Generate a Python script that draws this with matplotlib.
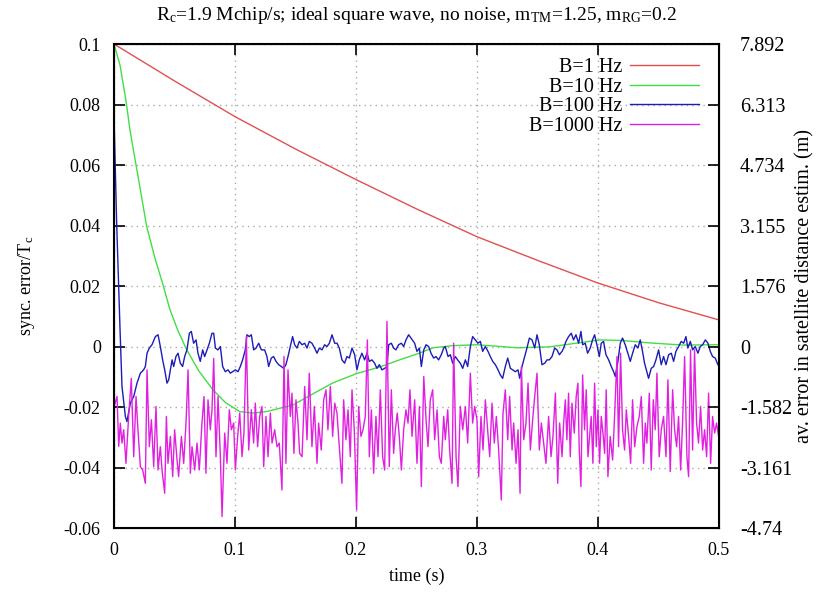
import numpy as np
import matplotlib
matplotlib.use("Agg")
import matplotlib.pyplot as plt
from matplotlib.ticker import FuncFormatter

plt.rcParams['font.family'] = ['Liberation Serif', 'DejaVu Serif']
plt.rcParams['mathtext.fontset'] = 'custom'
plt.rcParams['mathtext.rm'] = 'Liberation Serif'
plt.rcParams['mathtext.it'] = 'Liberation Serif'
plt.rcParams['axes.unicode_minus'] = False

# time in ms, sync error in units of 1e-3 T_c
t_b1 = [0, 50, 100, 150, 200, 250, 300, 350, 400, 450, 500]
e_b1 = [100, 87.8, 76.0, 65.3, 55.2, 45.5, 36.3, 28.5, 21.0, 14.5, 8.8]

t_b10 = [0, 5, 10, 13.2, 16, 20, 27, 34, 40.5, 46, 52.6, 60, 70, 81.8, 92, 104, 115, 126,
         148, 165, 181, 200, 220, 236, 250, 264, 280, 300, 333, 360, 380, 402, 420, 443, 470, 500]
e_b10 = [100, 93, 81, 71.6, 65, 56, 39.7, 29, 20.4, 12.5, 5.5, -1.0, -8.0, -14.3, -18.5, -21.5, -22.0, -21.5,
         -19.3, -15.5, -12.0, -9.0, -6.7, -4.4, -2.5, -0.4, 0.3, 0.6, -0.4, -0.1, 1.0, 2.2, 2.0, 1.2, 0.5, 0.6]

t_b100 = [0, 2.2, 5.0, 6.6, 9.4, 10.7, 13.5, 16.3, 19.0, 21.8, 24.5, 25.9, 27.3, 29.2, 31.4, 34.2, 36.4,
          38.3, 40.2, 41.9, 43.8, 45.2, 46.6, 48.0, 49.3, 51.2, 52.9, 54.8, 56.7, 58.4, 60.3, 62.3, 63.9,
          65.8, 67.8, 69.4, 71.3, 73.3, 74.9, 76.9, 78.8, 81.0, 82.4, 83.8, 85.9, 87.9, 89.8, 92.0, 94.2,
          96.2, 98.1, 100.3, 102.5, 104.4, 106.3, 108.5, 109.9, 111.8, 113.5, 115.4, 117.4, 119.6, 121.8,
          124.5, 126.4, 127.8, 130.0, 131.9, 133.9, 136.1, 138.3, 140.2, 142.1, 143.8, 145.7, 147.6, 149.3,
          151.2, 153.2, 155.4, 157.6, 159.5, 161.4, 163.6, 165.8, 167.8, 169.7, 171.9, 174.1, 176.0, 178.0,
          180.2, 182.4, 184.3, 186.2, 188.4, 190.6, 192.5, 194.5, 196.7, 198.9, 200.8, 202.7, 204.9, 207.1,
          209.1, 211.0, 213.2, 215.4, 217.3, 219.3, 221.5, 223.7, 225.6, 227.0, 229.2, 231.1, 233.0, 235.2,
          237.5, 239.4, 241.3, 243.5, 248.5, 250.4, 252.4, 254.0, 256.0, 257.9, 260.1, 262.0, 264.2, 266.1,
          268.3, 270.5, 272.5, 273.8, 276.1, 278.0, 279.9, 282.1, 284.0, 286.2, 288.2, 290.4, 292.3, 294.5,
          296.4, 298.6, 300.8, 302.8, 304.7, 306.9, 309.1, 311.0, 313.0, 315.2, 317.4, 319.3, 321.2, 323.4,
          325.4, 327.6, 329.5, 331.7, 333.9, 335.3, 337.2, 339.4, 341.3, 343.3, 345.5, 347.7, 349.6, 351.5,
          353.7, 356.0, 357.9, 359.8, 362.0, 364.2, 366.1, 368.1, 370.3, 371.6, 373.5, 375.7, 377.9, 379.8,
          381.8, 384.0, 385.9, 387.3, 389.5, 391.4, 393.6, 395.5, 397.2, 399.1, 401.1, 402.7, 404.6, 406.6,
          408.8, 411.0, 412.9, 414.3, 416.5, 418.4, 420.3, 422.5, 424.7, 426.7, 428.6, 430.8, 433.0, 434.9,
          436.3, 438.5, 440.4, 441.8, 444.0, 446.0, 447.9, 450.1, 452.3, 454.2, 456.2, 458.4, 460.6, 462.5,
          464.4, 466.6, 468.8, 470.8, 472.7, 474.3, 476.3, 478.2, 480.4, 482.6, 484.5, 486.5, 488.7, 490.9,
          492.8, 494.7, 496.9, 499.1]
e_b100 = [76, 40.8, 5.5, -13.2, -23.1, -24.8, -18.7, -16.5, -12.1, -8.8, -7.7, -6.6, -2.2, -0.5, 0.6, 3.3, 3.9,
          0.0, -4.4, -7.7, -12.1, -11.0, -7.7, -4.4, -6.6, -3.3, -2.2, -5.5, -6.6, -3.3, -1.1, 4.4, 5.0,
          1.1, 2.2, -2.2, -4.9, -1.1, -3.3, -1.1, 1.1, 4.4, 4.4, -0.5, -1.1, 0.0, -6.6, -8.3, -7.7,
          -8.8, -8.3, -7.7, -8.3, -6.6, -4.4, -1.1, 3.9, 3.3, 3.9, -1.1, -0.5, 1.1, -1.1,
          -1.1, -3.3, -6.6, -3.8, -3.3, -4.9, -6.0, -6.6, -7.2, -6.0, -3.3, 0.0, 3.3, 0.6,
          -0.5, 1.7, 0.6, 1.1, -0.5, 1.7, 1.1, -0.5, -2.2, -0.5, -1.1, 0.6, 0.0, 1.1,
          3.9, 1.1, 1.1, -0.5, -4.4, -5.5, -3.3, -3.8, -0.5, -2.7, -7.7, -4.4, -2.2, -4.4,
          -2.2, -4.9, -4.4, -5.5, -7.2, -6.0, -7.7, -7.2, -6.6, 0.6, 1.1, -0.5, -1.1, 0.6,
          1.1, 0.0, 2.2, 3.9, 1.1, -1.6, -0.5, -6.6, -1.1, 0.6, 0.0, -2.2, -3.8, -3.3,
          -4.4, -2.7, -0.5, 0.0, -3.3, -2.7, -5.5, -3.3, -4.4, -5.5, -7.2, -4.4, -6.6, 0.0,
          3.3, 2.2, 1.1, 1.7, -1.6, 0.0, -1.6, -3.3, -4.9, -6.0, -7.7, -9.4, -10.5, -6.6,
          -3.8, -7.2, -7.7, -8.3, -7.7, -10.5, -6.6, -3.3, -0.5, 2.8, 2.2, -0.5, 3.9, 0.6,
          -6.0, -5.5, -4.4, -4.4, -3.3, -0.5, -1.1, -2.7, -1.6, -0.5, 1.7, 3.3, 4.4, 2.2,
          3.9, 1.1, 5.0, 0.6, 1.1, -2.2, -0.5, 2.2, 3.9, 0.6, -3.3, 1.1, 1.7, -2.7,
          -4.4, -6.6, -8.3, -9.9, -4.9, 1.1, 2.8, 0.6, -2.2, -4.9, -2.2, 0.6, -0.5, 2.2,
          -0.5, -5.5, -8.3, -10.5, -7.2, -6.6, -4.4, -1.1, -6.0, -3.3, -6.0, -2.7, -2.2, -4.9,
          -1.6, 0.0, 1.7, 1.1, 3.3, -0.5, 1.7, -1.1, 0.0, -2.2, 0.0, 0.6, 2.2, 1.1,
          -1.6, -3.3, -3.8, -6.0]

t_b1000 = [0, 2.5, 3.9, 5.2, 6.6, 8.0, 9.9, 12.1, 14.3, 16.3, 18.2, 19.8, 21.8, 23.7, 25.9, 27.3, 29.2,
           30.9, 32.8, 34.7, 36.4, 38.3, 39.7, 41.9, 43.3, 44.6, 46.6, 48.5, 50.1, 52.1, 53.4, 55.7, 57.6,
           59.5, 61.2, 63.1, 64.5, 66.7, 68.6, 70.5, 72.7, 74.4, 76.0, 77.7, 79.6, 81.0, 82.4, 84.3, 86.0,
           87.9, 89.3, 91.5, 93.4, 95.3, 97.0, 98.9, 100.3, 102.2, 103.9, 105.8, 107.4, 109.4, 111.3, 113.5,
           115.4, 116.8, 118.7, 120.4, 122.3, 123.7, 125.6, 127.3, 129.2, 130.6, 132.8, 134.7, 136.6, 138.8,
           140.5, 142.1, 143.8, 145.7, 147.1, 148.7, 150.4, 152.1, 153.4, 155.4, 157.6, 159.5, 161.4, 163.6,
           165.6, 167.8, 169.1, 171.3, 173.3, 175.2, 176.8, 178.8, 180.7, 182.4, 184.3, 186.2, 188.4, 189.8,
           191.7, 193.4, 195.3, 196.7, 198.6, 200.5, 202.2, 204.1, 205.8, 207.7, 209.4, 211.0, 212.7, 214.6,
           216.5, 218.2, 220.1, 222.0, 223.7, 225.6, 227.5, 229.2, 231.1, 232.5, 234.1, 235.8, 237.5, 239.4,
           241.3, 243.0, 244.6, 246.3, 248.5, 250.4, 252.4, 254.0, 256.0, 257.9, 259.5, 261.4, 263.4, 265.0,
           267.0, 268.9, 270.5, 272.5, 273.8, 275.8, 277.4, 279.4, 280.7, 282.7, 284.3, 286.2, 288.2, 290.4,
           292.3, 294.5, 296.4, 298.1, 300.0, 301.4, 303.3, 305.0, 306.9, 308.8, 310.5, 312.4, 314.3, 316.0,
           317.9, 320.1, 321.5, 323.4, 325.4, 327.0, 329.0, 330.3, 332.3, 333.9, 335.6, 336.7, 338.6, 340.5,
           342.2, 344.1, 346.0, 347.7, 349.6, 351.5, 353.2, 355.1, 357.0, 359.2, 361.2, 362.8, 364.8, 366.7,
           368.3, 370.3, 371.6, 373.0, 374.3, 375.7, 377.1, 378.5, 380.4, 382.0, 383.4, 384.5, 385.9, 387.3,
           388.9, 390.3, 391.7, 393.1, 394.4, 395.8, 397.2, 398.6, 400.0, 401.3, 402.7, 404.1, 405.5, 406.8,
           408.2, 410.1, 412.1, 413.7, 415.7, 417.0, 418.7, 420.3, 422.0, 423.4, 425.3, 427.0, 428.6, 430.3,
           432.2, 434.1, 435.8, 437.7, 439.1, 440.4, 442.4, 444.0, 445.7, 447.3, 448.7, 450.6, 452.3, 454.2,
           456.2, 457.8, 459.7, 461.7, 463.3, 465.0, 466.6, 468.3, 469.9, 471.6, 473.5, 474.9, 476.5, 478.2,
           479.8, 481.5, 483.1, 484.8, 486.5, 488.1, 489.8, 491.4, 493.1, 494.7, 496.4, 498.0, 499.7]
e_b1000 = [-20, -16.5, -33.0, -25.3, -31.9, -27.5, -38.6, -23.1, -10.5, -36.4, -16.5, -27.5, -39.7, -40.8, -45.2, -7.7, -33.1,
           -24.2, -39.7, -19.8, -40.8, -33.1, -40.8, -48.5, -23.1, -38.6, -29.7, -43.0, -27.5, -37.5, -43.0, -29.7, -38.6,
           -25.3, -7.7, -41.9, -33.1, -40.8, -31.9, -40.8, -25.3, -16.5, -41.9, -17.6, -27.5, -20.9, -3.9, -36.4, -16.5,
           -36.4, -56.2, -28.6, -38.6, -20.9, -27.5, -25.3, -40.8, -29.7, -22.0, -36.4, -28.6, 3.3, -34.2, -20.9,
           -31.9, -18.7, -33.1, -23.1, -19.8, -39.7, -23.1, -36.4, -22.0, -31.9, -27.5, -33.1, -31.9, -47.4,
           -3.3, -38.6, -7.7, -23.1, -15.4, -35.3, -17.6, -25.3, -35.3, -36.4, -13.2, -30.8, -8.8, -33.1,
           -19.8, -38.6, -25.3, -34.2, -17.6, -14.3, -27.5, -13.2, -29.7, -18.7, -22.0, -33.1, -45.2, -17.6,
           -30.8, -20.9, -36.4, -14.3, -27.5, -54.0, -19.8, -29.7, -27.5, -23.1, 2.2, -36.4, -20.9, -41.9,
           -23.1, -36.4, -14.3, -36.4, -40.8, 8.3, -39.7, -14.3, -35.3, -27.5, -22.0, -29.7, -40.8, -27.5,
           -20.9, -25.3, -14.3, -29.7, -17.6, -38.6, -19.8, -46.3, -9.9, -24.2, -33.1, -17.6, -14.3, -30.8,
           -20.9, -36.4, -38.6, -23.1, -30.8, -20.9, -34.2, -45.2, 1.1, -36.4, -46.3, -19.8, -27.5, -19.8,
           -31.9, -8.8, -25.3, -19.8, -24.2, -43.0, -23.1, -34.2, -17.6, -27.5, -36.4, -18.7, -31.9, -23.1,
           -34.2, -50.7, -22.0, -14.3, -30.8, -16.5, -34.2, -25.3, -38.6, -27.5, -48.5, -6.6, -30.8, -25.3,
           -12.1, -34.2, -24.2, -16.5, -8.8, -34.2, -25.3, -31.9, -38.6, -23.1, -36.4, -29.7, -15.4, -45.2,
           -25.3, -36.4, -25.3, -17.6, -30.8, -15.4, -36.4, -18.7, -28.6, -16.5, -12.1, -34.2, -46.3, -9.4,
           -27.5, -14.3, -36.4, -29.7, -23.1, -38.6, -12.1, -33.1, -20.9, -38.6, -23.1, -28.6, -35.3, -14.3,
           -43.0, -29.7, -37.5, -23.1, -3.3, -33.1, -2.2, -27.5, -34.2, -20.9, -29.7, -38.6, -17.6, -33.1,
           -26.4, -23.1, -16.5, -38.6, -25.3, -31.9, -15.4, -40.8, -17.6, -27.5, -8.8, -36.4, -27.5, -23.1,
           -36.4, -11.0, -41.3, -14.3, -27.5, -33.1, -23.1, -40.8, -25.3, -3.3, -36.4, -43.0, -1.1, -34.2,
           -1.1, -25.3, -31.9, -19.8, -34.2, -27.5, -36.4, -15.4, -38.6, -23.1, -28.6, -25.3, -29.7]

series = [
    (t_b1, e_b1, 'B=1 Hz', '#e05050'),
    (t_b10, e_b10, 'B=10 Hz', '#44dd44'),
    (t_b100, e_b100, 'B=100 Hz', '#1c1cb8'),
    (t_b1000, e_b1000, 'B=1000 Hz', '#e020e0'),
]

left_ticks = [-0.06, -0.04, -0.02, 0, 0.02, 0.04, 0.06, 0.08, 0.1]
right_labels = ['-4.74', '-3.161', '-1.582', '0', '1.576', '3.155', '4.734', '6.313', '7.892']
x_ticks = [0, 0.1, 0.2, 0.3, 0.4, 0.5]

fig = plt.figure(figsize=(8.37, 5.92), dpi=100)
ax = fig.add_axes([0.1362, 0.108, 0.7228, 0.8176])

for t, e, name, col in series:
    ax.plot(np.array(t) * 1e-3, np.array(e) * 1e-3, color=col, lw=1.0, label=name)

ax.set_xlim(0, 0.5)
ax.set_ylim(-0.06, 0.1)
ax.set_xticks(x_ticks)
ax.set_yticks(left_ticks)
fmt = FuncFormatter(lambda v, p: '%g' % round(v, 6))
ax.xaxis.set_major_formatter(fmt)
ax.yaxis.set_major_formatter(fmt)
ax.grid(True, color='#aaaaaa', linestyle=(0, (1, 3)), lw=1.0)
ax.tick_params(direction='in', length=8, width=1.2, labelsize=13, top=True, pad=9.5)
ax.tick_params(axis='x', pad=10)
for s in ax.spines.values():
    s.set_linewidth(1.5)

ax2 = ax.twinx()
ax2.set_ylim(-0.06, 0.1)
ax2.set_yticks(left_ticks)
ax2.set_yticklabels(right_labels)
ax2.tick_params(direction='in', length=8, width=1.2, labelsize=14.5, pad=15)

ax.set_xlabel('time (s)', fontsize=13, labelpad=6)
ax.set_ylabel('sync. error/T$_\\mathregular{c}$', fontsize=13, labelpad=19)
ax2.set_ylabel('av. error in satellite distance estim. (m)', fontsize=14.5, labelpad=2)
ax.set_title('R$_\\mathregular{c}$=1.9 Mchip/s; ideal square wave, no noise, '
             'm$_\\mathregular{TM}$=1.25, m$_\\mathregular{RG}$=0.2', fontsize=14, pad=17)

leg = ax.legend(loc='upper right', frameon=False, markerfirst=False, fontsize=14.5,
                handlelength=3.4, handletextpad=0.4, labelspacing=0.02,
                borderaxespad=0.3, bbox_to_anchor=(0.99, 1.0))
for txt in leg.get_texts():
    txt.set_ha('right')
leg._legend_box.align = 'right'

fig.savefig('out.png', dpi=100)
